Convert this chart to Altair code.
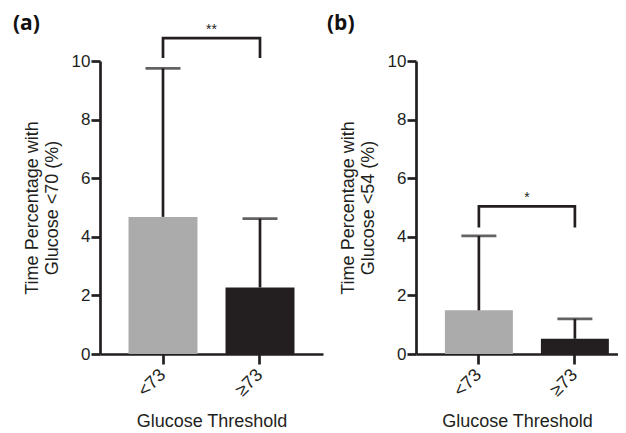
import altair as alt
import pandas as pd

groups = ["<73", "≥73"]
colors = ["#ababab", "#231f20"]
mean_a = [4.68, 2.27]
upper_a = [9.75, 4.62]
mean_b = [1.49, 0.52]
upper_b = [4.03, 1.20]
bracket_groups = ["<73", "<73", "≥73", "≥73"]
bracket_a = [10.15, 10.78, 10.78, 10.15]
bracket_b = [4.36, 5.04, 5.04, 4.36]
star_a = "**"
star_b = "*"
ytitle_a = ["Time Percentage with", "Glucose <70 (%)"]
ytitle_b = ["Time Percentage with", "Glucose <54 (%)"]
yticks = [0, 2, 4, 6, 8, 10]

INK = "#231f20"
FONT = "Liberation Sans"
LW = 2.7


def panel(mean, upper, bracket, star, ytitle, label, width, height, pi, po, align, lab_dx):
    df = pd.DataFrame({"g": groups, "mean": mean, "upper": upper, "c": colors})
    br = pd.DataFrame({"g": bracket_groups, "v": bracket, "i": list(range(4))})
    st = pd.DataFrame({"g": [groups[0]], "v": [max(bracket)], "t": [star]})
    lb = pd.DataFrame({"t": [label]})
    step = width / (2 - pi + 2 * po)

    xaxis = alt.Axis(title="Glucose Threshold", labelAngle=315, labelFontSize=18,
                     labelFont=FONT, labelColor=INK, titleFont=FONT, titleFontSize=18,
                     titleFontWeight="normal", titleColor=INK, titlePadding=13,
                     domainColor=INK, domainWidth=LW, tickColor=INK, tickWidth=LW,
                     tickSize=10, labelPadding=8, labelAlign="right", labelBaseline="middle")
    yaxis = alt.Axis(title=ytitle, values=yticks, labelFontSize=17, labelFont=FONT,
                     labelColor=INK, titleFont=FONT, titleFontSize=18,
                     titleFontWeight="normal", titleColor=INK, titlePadding=10,
                     titleLineHeight=20, domainColor=INK, domainWidth=LW, tickColor=INK,
                     tickWidth=LW, tickSize=9, labelPadding=1, grid=False)
    xs = alt.Scale(paddingInner=pi, paddingOuter=po, align=align)
    ys = alt.Scale(domain=[0, 10], nice=False)

    X = alt.X("g:N", sort=groups, scale=xs, axis=xaxis)
    bars = alt.Chart(df).mark_bar().encode(
        x=X, y=alt.Y("mean:Q", scale=ys, axis=yaxis),
        color=alt.Color("c:N", scale=None))
    rules = alt.Chart(df).mark_rule(color=INK, strokeWidth=LW).encode(
        x=X, y=alt.Y("mean:Q", scale=ys, axis=yaxis), y2="upper:Q")
    caps = alt.Chart(df).mark_tick(color=INK, thickness=LW, size=35,
                                   orient="horizontal").encode(
        x=X, y=alt.Y("upper:Q", scale=ys, axis=yaxis))
    brk = alt.Chart(br).mark_line(color=INK, strokeWidth=LW, strokeJoin="miter",
                                  strokeCap="square", clip=False).encode(
        x=X, y=alt.Y("v:Q", scale=ys, axis=yaxis), order="i:Q")
    txt = alt.Chart(st).mark_text(fontSize=14, font=FONT, color=INK,
                                  baseline="alphabetic", dx=step / 2, dy=-4).encode(
        x=X, y=alt.Y("v:Q", scale=ys, axis=yaxis), text="t:N")
    ttl = alt.Chart(lb).mark_text(fontSize=21, font="Open Sans", fontWeight="bold",
                                  color="#111111", align="left",
                                  baseline="alphabetic").encode(
        x=alt.value(lab_dx), y=alt.value(-31), text="t:N")
    return alt.layer(bars, rules, caps, brk, txt, ttl).properties(
        width=width, height=height)


pa = panel(mean_a, upper_a, bracket_a, star_a, ytitle_a, "(a)", 223, 293,
           0.289, 0.294, 0.5, -87)
pb = panel(mean_b, upper_b, bracket_b, star_b, ytitle_b, "(b)", 202, 293,
           0.292, 0.198, 0.76, -89)

chart = alt.hconcat(pa, pb, spacing=93, bounds="flush").configure_view(
    stroke=None).properties(
    background="white",
    padding={"left": 5, "top": 5, "right": 0, "bottom": 0})

chart.save("out.html", embed_options={"renderer": "svg", "actions": False})
